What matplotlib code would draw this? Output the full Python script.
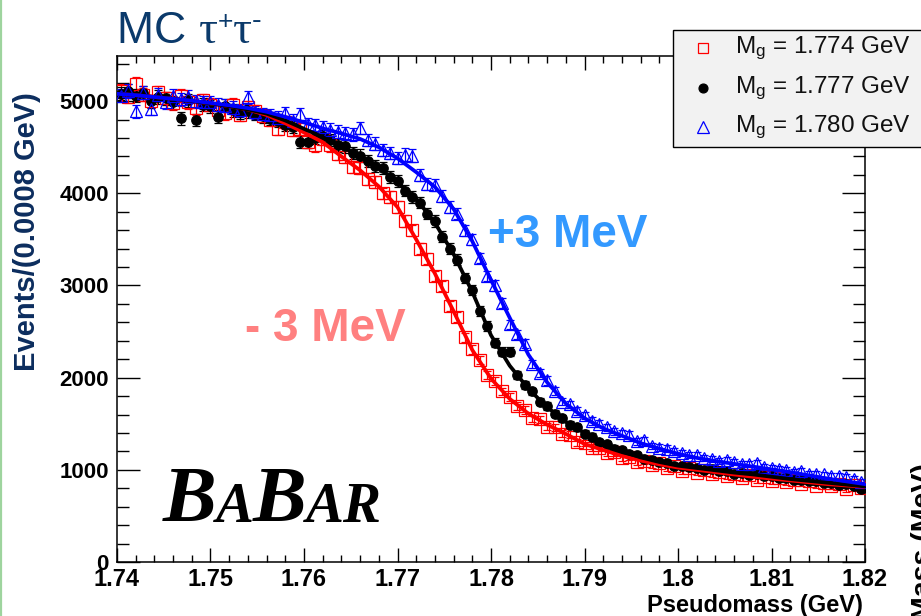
import numpy as np
import matplotlib
matplotlib.use('Agg')
import matplotlib.pyplot as plt
from matplotlib.patches import Rectangle
from matplotlib.lines import Line2D
from matplotlib.ticker import MultipleLocator, FixedLocator, FixedFormatter

plt.rcParams['font.family'] = ['Liberation Sans', 'DejaVu Sans']
plt.rcParams['mathtext.fontset'] = 'custom'
plt.rcParams['mathtext.rm'] = 'Liberation Sans'
plt.rcParams['mathtext.it'] = 'Liberation Sans:italic'
plt.rcParams['mathtext.bf'] = 'Liberation Sans:bold'

# ---------------- data ----------------
bin_width = 0.0008
x_bins = np.round(1.7404 + bin_width * np.arange(100), 4)

red_counts = [5110, 5050, 5190, 5070, 5000, 5095, 5030, 4980, 5060, 4990,
              4925, 5010, 4960, 4900, 4870, 4960, 4850, 4935, 4890, 4840,
              4800, 4700, 4770, 4690, 4700, 4560, 4520, 4590, 4520, 4430,
              4390, 4290, 4280, 4160, 4120, 4000, 3960, 3850, 3700, 3600,
              3400, 3290, 3100, 2990, 2780, 2660, 2440, 2310, 2190, 2030,
              1960, 1850, 1790, 1690, 1650, 1560, 1550, 1470, 1460, 1390,
              1380, 1300, 1290, 1240, 1240, 1180, 1190, 1130, 1140, 1080,
              1100, 1050, 1070, 1020, 1040, 990, 1020, 970, 1000, 950,
              975, 930, 960, 910, 940, 890, 925, 880, 910, 870,
              890, 850, 875, 830, 860, 820, 845, 790, 835, 800]

black_counts = [5080, 5110, 5060, 5090, 5000, 5045, 5030, 4990, 4815, 5010,
                4795, 4960, 4945, 4830, 4950, 4900, 4880, 4890, 4860, 4835,
                4810, 4790, 4740, 4720, 4555, 4560, 4600, 4620, 4580, 4520,
                4510, 4440, 4410, 4350, 4300, 4270, 4180, 4130, 4030, 3960,
                3900, 3780, 3700, 3530, 3400, 3280, 3080, 2950, 2720, 2560,
                2380, 2280, 2280, 2030, 1920, 1850, 1740, 1690, 1610, 1560,
                1490, 1460, 1390, 1360, 1300, 1280, 1230, 1210, 1170, 1160,
                1120, 1110, 1080, 1075, 1045, 1045, 1030, 1025, 1000, 1005,
                985, 985, 960, 970, 945, 950, 930, 935, 910, 915,
                890, 890, 875, 880, 860, 860, 840, 850, 825, 790]

blue_counts = [5060, 5110, 4890, 5090, 4920, 5070, 4990, 5060, 5020, 5050,
               5000, 4990, 4990, 4960, 4950, 4930, 4900, 5040, 4880, 4860,
               4850, 4820, 4870, 4790, 4860, 4750, 4740, 4720, 4690, 4670,
               4650, 4640, 4710, 4580, 4540, 4470, 4440, 4380, 4420, 4410,
               4200, 4100, 4090, 3970, 3850, 3780, 3600, 3500, 3300, 3100,
               3000, 2810, 2580, 2470, 2370, 2150, 2050, 1970, 1860, 1740,
               1710, 1640, 1590, 1530, 1500, 1460, 1420, 1400, 1380, 1310,
               1320, 1260, 1240, 1230, 1200, 1180, 1160, 1160, 1130, 1120,
               1100, 1110, 1080, 1060, 1060, 1070, 1030, 1020, 1010, 1000,
               980, 990, 960, 960, 950, 930, 930, 920, 900, 870]

fit_x = [1.740, 1.742, 1.744, 1.746, 1.748, 1.750, 1.752, 1.754, 1.756, 1.758,
         1.760, 1.762, 1.764, 1.766, 1.768, 1.770, 1.772, 1.774, 1.776, 1.778,
         1.780, 1.782, 1.784, 1.786, 1.788, 1.790, 1.792, 1.794, 1.796, 1.798,
         1.800, 1.802, 1.804, 1.806, 1.808, 1.810, 1.812, 1.814, 1.816, 1.818,
         1.820]
red_fit = [5080, 5065, 5045, 5025, 5000, 4975, 4945, 4910, 4850, 4760,
           4660, 4555, 4400, 4250, 4075, 3850, 3500, 3130, 2720, 2300,
           1990, 1770, 1610, 1490, 1390, 1280, 1215, 1150, 1100, 1060,
           1025, 1000, 975, 950, 925, 905, 885, 865, 845, 830, 815]
black_fit = [5080, 5065, 5045, 5025, 5000, 4975, 4945, 4910, 4865, 4790,
             4700, 4610, 4510, 4400, 4280, 4120, 3940, 3680, 3340, 2930,
             2460, 2130, 1880, 1680, 1520, 1400, 1290, 1200, 1135, 1085,
             1045, 1020, 995, 970, 950, 925, 900, 880, 860, 840, 820]
blue_fit = [5080, 5065, 5045, 5025, 5005, 4980, 4955, 4925, 4885, 4830,
            4770, 4705, 4650, 4590, 4500, 4380, 4230, 4070, 3830, 3480,
            3060, 2650, 2250, 1950, 1720, 1560, 1450, 1370, 1290, 1230,
            1175, 1130, 1095, 1065, 1035, 1005, 975, 940, 905, 875, 845]

legend_labels = ['M$_{\\rm g}$ = 1.774 GeV', 'M$_{\\rm g}$ = 1.777 GeV', 'M$_{\\rm g}$ = 1.780 GeV']
x_tick_vals = [1.74, 1.75, 1.76, 1.77, 1.78, 1.79, 1.80, 1.81, 1.82]
x_tick_labels = ['1.74', '1.75', '1.76', '1.77', '1.78', '1.79', '1.8', '1.81', '1.82']
y_tick_vals = [0, 1000, 2000, 3000, 4000, 5000]

# ---------------- figure ----------------
W, H = 921, 616
fig = plt.figure(figsize=(W / 100, H / 100), dpi=100)
fig.patch.set_facecolor('white')
ax = fig.add_axes([117 / W, (H - 562) / H, (865 - 117) / W, (562 - 56) / H])
ax.set_xlim(1.74, 1.82)
ax.set_ylim(0, 5490)

series = [
    (red_counts, red_fit, '#ff0000', 's', 8.2, 'none'),
    (black_counts, black_fit, '#000000', 'o', 6.8, '#000000'),
    (blue_counts, blue_fit, '#0000ff', '^', 8.6, 'none'),
]
for counts, fit, col, mk, ms, mfc in series:
    c = np.array(counts, dtype=float)
    ax.errorbar(x_bins, c, yerr=np.sqrt(c), fmt=mk, color=col, mec=col,
                mfc=mfc, ms=ms, mew=0.9, elinewidth=0.9, capsize=3.2,
                capthick=0.9, zorder=3)
for counts, fit, col, mk, ms, mfc in series:
    ax.plot(fit_x, fit, color=col, lw=2.7, zorder=4, solid_capstyle='round')

ax.xaxis.set_major_locator(FixedLocator(x_tick_vals))
ax.xaxis.set_major_formatter(FixedFormatter(x_tick_labels))
ax.xaxis.set_minor_locator(MultipleLocator(0.002))
ax.yaxis.set_major_locator(FixedLocator(y_tick_vals))
ax.yaxis.set_minor_locator(MultipleLocator(200))
ax.tick_params(axis='x', which='major', direction='in', length=10, width=1.0,
               top=True, bottom=True, labelsize=17, pad=4)
ax.tick_params(axis='x', which='minor', direction='in', length=5, width=1.0,
               top=True, bottom=True)
ax.tick_params(axis='y', which='major', direction='in', length=16.5, width=1.0,
               left=True, right=True, labelsize=16, pad=6)
ax.tick_params(axis='y', which='minor', direction='in', length=8.5, width=1.0,
               left=True, right=True)
for lab in ax.get_xticklabels() + ax.get_yticklabels():
    lab.set_fontweight('bold')
for sp in ax.spines.values():
    sp.set_linewidth(1.1)

# labels
fig.text(27 / W, (H - 232) / H, 'Events/(0.0008 GeV)', rotation=90,
         ha='center', va='center', fontsize=21, fontweight='bold', color='#0c2d5e')
fig.text(863 / W, (H - 612) / H, 'Pseudomass (GeV)', ha='right', va='baseline',
         fontsize=17, fontweight='bold', color='black')

# annotations
fig.text(488 / W, (H - 247) / H, '+3 MeV', fontsize=33, fontweight='bold',
         color='#3399ff', ha='left', va='baseline')
fig.text(245 / W, (H - 341) / H, '- 3 MeV', fontsize=33, fontweight='bold',
         color='#ff8080', ha='left', va='baseline')

# clipped label of neighbouring panel
fig.text(931 / W, (H - 620) / H, 'Mass (MeV)', rotation=90, rotation_mode='anchor',
         ha='left', va='baseline', fontsize=20.5, fontweight='bold', color='black')

# green strip at left edge
fig.add_artist(Line2D([1 / W, 1 / W], [0, 1], transform=fig.transFigure,
                      color='#9ed49e', lw=1.6))

# legend box
fig.add_artist(Rectangle((673 / W, (H - 147) / H), 260 / W, 117 / H,
                         transform=fig.transFigure, facecolor='#f2f2f2',
                         edgecolor='black', lw=1.0, zorder=5))
leg_y = [48, 88, 127]
leg_style = [('s', '#ff0000', 'none', 7.6), ('o', '#000000', '#000000', 6.4),
             ('^', '#0000ff', 'none', 8.0)]
for yy, (mk, col, mfc, ms), lab in zip(leg_y, leg_style, legend_labels):
    fig.add_artist(Line2D([703 / W], [(H - yy) / H], transform=fig.transFigure,
                          marker=mk, color=col, mec=col, mfc=mfc, ms=ms, mew=0.9,
                          ls='none', zorder=6))
    fig.text(735 / W, (H - yy) / H, lab, ha='left', va='center', fontsize=17.5,
             color='#111111', zorder=6)

# title and BaBar logo, placed piece by piece
fig.canvas.draw()
rend = fig.canvas.get_renderer()
title_col = '#0b3a6b'
title_pieces = [('MC ', 32, 'Liberation Sans', 0), ('\u03c4', 34, 'Liberation Serif', 0),
                ('+', 19, 'Liberation Sans', 14), ('\u03c4', 34, 'Liberation Serif', 0),
                ('-', 21, 'Liberation Sans', 14)]
cur = 117
for s, fs, fam, rise in title_pieces:
    t = fig.text(cur / W, (H - 43 + rise) / H, s, fontsize=fs, family=fam,
                 ha='left', va='baseline', color=title_col)
    cur = t.get_window_extent(rend).x1

pieces = [('B', 58), ('A', 41), ('B', 58), ('A', 41), ('R', 41)]
cur = 163
base = H - 522
for s, fs in pieces:
    t = fig.text(cur / W, base / H, s, fontsize=fs, family='Liberation Serif',
                 fontweight='bold', style='italic', ha='left', va='baseline',
                 color='black')
    cur = t.get_window_extent(rend).x1 - 1

fig.savefig('out.png', dpi=100)
